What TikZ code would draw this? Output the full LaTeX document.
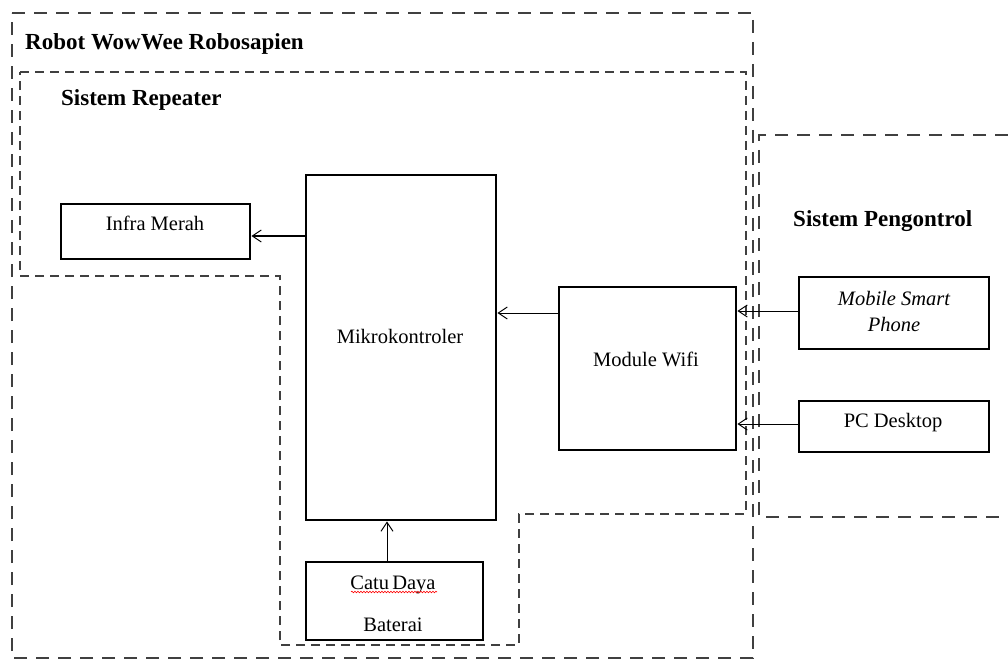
\documentclass[tikz,border=0pt]{standalone}
\usepackage{fontspec}
\setmainfont{Liberation Serif}
\usetikzlibrary{arrows.meta,decorations.pathmorphing}
\begin{document}
\begin{tikzpicture}[x=1pt,y=-1pt,
  box/.style={draw=black, line width=2.8pt, inner sep=0pt},
  txt/.style={inner sep=0pt, anchor=base, font=\fontsize{20.5}{24}\selectfont},
  title/.style={inner sep=0pt, anchor=base west, font=\fontsize{23}{27}\selectfont\bfseries},
  arr/.style={-{Straight Barb[length=9pt,width=12pt,line width=1pt]}, line width=1pt},
  outerdash/.style={draw=black!75, line width=1.3pt, dash pattern=on 13pt off 9pt},
  innerdash/.style={draw=black!75, line width=1.3pt, dash pattern=on 9pt off 6pt}]
\useasboundingbox (0,0) rectangle (1008,660);
% boundaries
\draw[outerdash] (12,13) -- (753,13) -- (753,658) -- (12,658) -- cycle;
\draw[innerdash] (20,72) -- (746,72) -- (746,514) -- (519,514) -- (519,645)
  -- (280,645) -- (280,276) -- (20,276) -- cycle;
\draw[outerdash] (1008,135) -- (759,135) -- (759,517) -- (1008,517);
% titles
\node[title] (trobot) at (25,50) {Robot WowWee Robosapien};
\node[title] (trep) at (61,106) {Sistem Repeater};
\node[title] (tpeng) at (793,227) {Sistem Pengontrol};
% boxes
\node[box, minimum width=189pt, minimum height=55pt] (infra) at (155.5,231.5) {};
\node[box, minimum width=190pt, minimum height=345pt] (mikro) at (401,347.5) {};
\node[box, minimum width=177pt, minimum height=163pt] (wifi) at (647.5,368.5) {};
\node[box, minimum width=190pt, minimum height=72pt] (phone) at (894,313) {};
\node[box, minimum width=190pt, minimum height=51pt] (pc) at (894,426.5) {};
\node[box, minimum width=177pt, minimum height=78pt] (catu) at (394.5,601) {};
% texts
\node[txt] (tinfra) at (155,231) {Infra Merah};
\node[txt] (tmikro) at (400,343) {Mikrokontroler};
\node[txt] (twifi) at (646,366) {Module Wifi};
\node[txt] (tphone1) at (894,305) {\itshape Mobile Smart};
\node[txt] (tphone2) at (894,331) {\itshape Phone};
\node[txt] (tpc) at (893,427) {PC Desktop};
\node[txt] (tcatu) at (393,589) {Catu\hspace{-2pt} Daya};
\node[txt] (tbat) at (393,631) {Baterai};
\coordinate (u1) at (351,592);
\coordinate (u2) at (437,592);
\draw[red, line width=0.6pt, decorate, decoration={snake, segment length=3pt, amplitude=0.8pt}] (u1) -- (u2);
% connectors
\coordinate (ya) at (0,236);
\coordinate (yb) at (0,313);
\coordinate (yc) at (0,311);
\coordinate (yd) at (0,424);
\coordinate (xe) at (387,0);
\draw[arr] (mikro.west |- ya) -- (infra.east |- ya);
\draw[arr] (wifi.west |- yb) -- (mikro.east |- yb);
\draw[arr] (phone.west |- yc) -- (wifi.east |- yc);
\draw[arr] (pc.west |- yd) -- (wifi.east |- yd);
\draw[arr] (catu.north -| xe) -- (mikro.south -| xe);
\end{tikzpicture}
\end{document}
